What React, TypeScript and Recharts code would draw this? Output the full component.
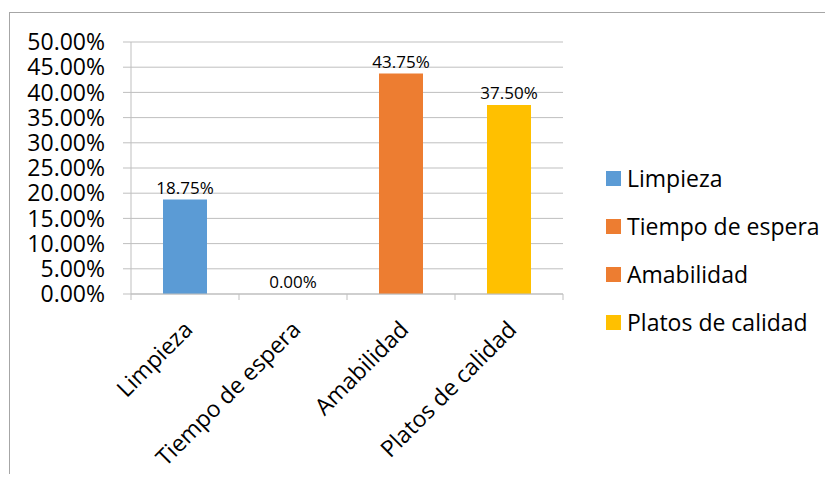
import React from 'react'
import { ComposedChart, Bar, Line, XAxis, YAxis, CartesianGrid, Cell, LabelList } from 'recharts'

const categories = ['Limpieza', 'Tiempo de espera', 'Amabilidad', 'Platos de calidad']
const values = [18.75, 0, 43.75, 37.5]
const colors = ['#5B9BD5', '#ED7D31', '#ED7D31', '#FFC000']
const yTicks = [0, 5, 10, 15, 20, 25, 30, 35, 40, 45, 50]

const data = categories.map((name, i) => ({ name, value: values[i] }))

const FONT = '"Open Sans", sans-serif'
const GRID = '#bfbfbf'
const HALF_BAND = 54

function pct(v: number) {
  return v.toFixed(2) + '%'
}

function CategoryTick({ x, y, payload, index }: any) {
  const axisY = y - 8
  const ax = x + 9
  const ay = axisY + 37
  return (
    <g>
      <line x1={x - HALF_BAND} y1={axisY} x2={x - HALF_BAND} y2={axisY + 6} stroke={GRID} />
      {index === categories.length - 1 && (
        <line x1={x + HALF_BAND} y1={axisY} x2={x + HALF_BAND} y2={axisY + 6} stroke={GRID} />
      )}
      <text
        x={ax}
        y={ay}
        textAnchor="end"
        transform={`rotate(-45, ${ax}, ${ay})`}
        fontSize={23}
        fontFamily={FONT}
        fill="#000"
      >
        {payload.value}
      </text>
    </g>
  )
}

function ValueLabel({ x, y, value }: any) {
  return (
    <text x={x} y={y - 6} textAnchor="middle" fontSize={17} fontFamily={FONT} fill="#000">
      {pct(Number(value))}
    </text>
  )
}

function LegendList() {
  return (
    <div style={{ position: 'absolute', left: 606, top: 154, fontFamily: FONT, fontSize: 23, color: '#000' }}>
      {categories.map((c, i) => (
        <div key={c} style={{ display: 'flex', alignItems: 'center', height: 48 }}>
          <span style={{ width: 15, height: 15, background: colors[i], marginRight: 6, display: 'inline-block' }} />
          <span>{c}</span>
        </div>
      ))}
    </div>
  )
}

export default function App() {
  return (
    <div style={{ position: 'relative', margin: -8, width: 833, height: 482, background: '#fff', overflow: 'hidden' }}>
      <div
        style={{
          position: 'absolute',
          left: 9,
          top: 12,
          width: 900,
          height: 600,
          borderTop: '1px solid #a6a6a6',
          borderLeft: '1px solid #a6a6a6',
        }}
      />
      <div style={{ position: 'absolute', left: 0, top: 0 }}>
        <ComposedChart width={833} height={482} data={data} margin={{ top: 42, right: 270, left: 0, bottom: 8 }}>
          <CartesianGrid horizontal vertical={false} stroke={GRID} />
          <YAxis
            domain={[0, 50]}
            ticks={yTicks}
            width={131}
            tickFormatter={pct}
            tick={{ fontSize: 23, fill: '#000', fontFamily: FONT }}
            tickSize={8}
            tickMargin={18}
            axisLine={{ stroke: GRID }}
            tickLine={{ stroke: GRID }}
            interval={0}
          />
          <XAxis
            dataKey="name"
            height={180}
            interval={0}
            tickLine={false}
            axisLine={{ stroke: GRID }}
            tick={<CategoryTick />}
          />
          <Bar dataKey="value" barSize={44} isAnimationActive={false}>
            {data.map((d, i) => (
              <Cell key={d.name} fill={colors[i]} />
            ))}
          </Bar>
          <Line
            dataKey="value"
            stroke="none"
            dot={false}
            activeDot={false}
            legendType="none"
            isAnimationActive={false}
          >
            <LabelList dataKey="value" content={<ValueLabel />} />
          </Line>
        </ComposedChart>
      </div>
      <LegendList />
    </div>
  )
}
